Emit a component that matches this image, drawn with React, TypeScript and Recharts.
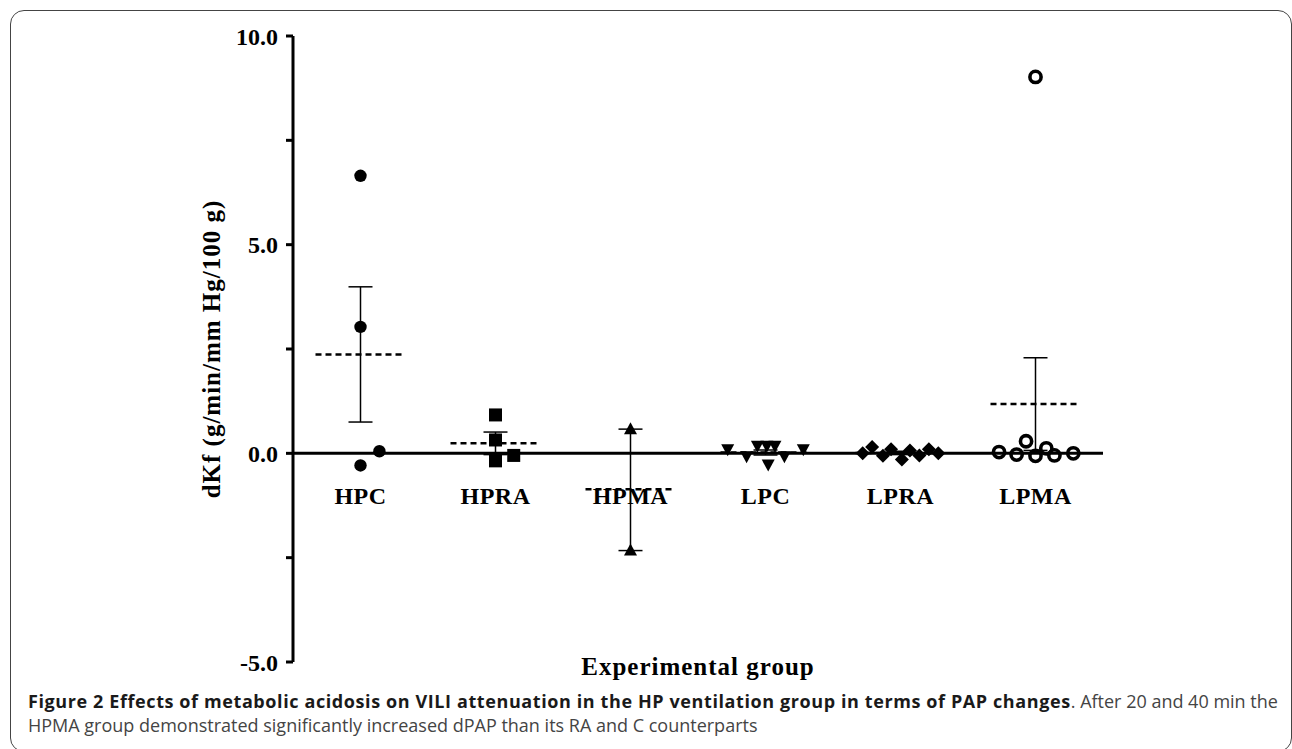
import React from "react";
import {
  ComposedChart,
  ErrorBar,
  ReferenceLine,
  Scatter,
  XAxis,
  YAxis,
} from "recharts";

const categories = ["HPC", "HPRA", "HPMA", "LPC", "LPRA", "LPMA"];
const yTicks = [-5, -2.5, 0, 2.5, 5, 7.5, 10];

// individual animals per group (value) and horizontal spread within the column
const hpcValues = [6.65, 3.03, -0.29, 0.05];
const hpcSpread = [0, 0, 0, 0.14];
const hpraValues = [0.92, 0.32, -0.18, -0.05];
const hpraSpread = [0, 0, 0, 0.135];
const hpmaValues = [0.58, -2.33];
const hpmaSpread = [0, 0];
const lpcValues = [0.1, -0.07, 0.18, 0.18, -0.27, 0.18, -0.07, 0.1];
const lpcSpread = [-0.28, -0.14, -0.06, 0.01, 0.02, 0.07, 0.14, 0.28];
const lpraValues = [0.0, 0.15, -0.06, 0.1, -0.15, 0.07, -0.05, 0.1, 0.0];
const lpraSpread = [-0.28, -0.21, -0.13, -0.07, 0.01, 0.07, 0.14, 0.21, 0.28];
const lpmaValues = [0.03, -0.03, 0.29, -0.06, 0.12, -0.05, 0.0, 9.02];
const lpmaSpread = [-0.27, -0.14, -0.07, 0, 0.08, 0.14, 0.28, 0];

// group mean and SEM bounds
const means = [2.37, 0.24, -0.86, 0.02, 0.01, 1.18];
const errLow = [1.62, 0.27, 1.47, 0.06, 0.04, 1.11];
const errHigh = [1.62, 0.27, 1.44, 0.06, 0.04, 1.11];

const toPoints = (vals: number[], spread: number[], i: number) =>
  vals.map((y, k) => ({ x: i + 0.5 + spread[k], y }));

const meanData = means.map((m, i) => ({
  x: i + 0.5,
  y: m,
  err: [errLow[i], errHigh[i]],
}));
const labelData = categories.map((name, i) => ({ x: i + 0.5, y: 0, name }));

const serif = "'Liberation Serif', 'Times New Roman', serif";

const dot = (p: any) => <circle cx={p.cx} cy={p.cy} r={6.2} fill="#000" />;
const square = (p: any) => (
  <rect x={p.cx - 6.5} y={p.cy - 6.5} width={13} height={13} fill="#000" />
);
const triUp = (p: any) => (
  <polygon
    points={`${p.cx},${p.cy - 7} ${p.cx - 6.5},${p.cy + 5} ${p.cx + 6.5},${p.cy + 5}`}
    fill="#000"
  />
);
const triDown = (p: any) => (
  <polygon
    points={`${p.cx - 6.5},${p.cy - 5} ${p.cx + 6.5},${p.cy - 5} ${p.cx},${p.cy + 7}`}
    fill="#000"
  />
);
const diamond = (p: any) => (
  <polygon
    points={`${p.cx},${p.cy - 7} ${p.cx + 7},${p.cy} ${p.cx},${p.cy + 7} ${p.cx - 7},${p.cy}`}
    fill="#000"
  />
);
const ring = (p: any) => (
  <circle cx={p.cx} cy={p.cy} r={5.6} fill="none" stroke="#000" strokeWidth={3.6} />
);
const meanLine = (p: any) => (
  <line
    x1={p.cx - 45}
    x2={p.cx + 45}
    y1={p.cy}
    y2={p.cy}
    stroke="#000"
    strokeWidth={2.5}
    strokeDasharray="6 4"
  />
);
const catLabel = (p: any) => (
  <text
    x={p.cx}
    y={p.cy + 51}
    textAnchor="middle"
    fontFamily={serif}
    fontWeight="bold"
    fontSize={24}
    letterSpacing={0.5}
    fill="#000"
  >
    {p.payload.name}
  </text>
);

export default function App() {
  return (
    <div
      style={{
        position: "absolute",
        left: 0,
        top: 0,
        width: 1292,
        height: 749,
        overflow: "hidden",
        background: "#fff",
      }}
    >
      <div
        style={{
          position: "absolute",
          left: 10,
          top: 10,
          width: 1282,
          height: 742,
          boxSizing: "border-box",
          border: "1.5px solid #444",
          borderRadius: 14,
        }}
      />
      <div style={{ position: "absolute", left: 0, top: 0 }}>
        <ComposedChart
          width={1292}
          height={690}
          margin={{ top: 36, right: 189, left: 193, bottom: 0 }}
        >
          <XAxis
            type="number"
            dataKey="x"
            domain={[0, 6]}
            allowDataOverflow
            axisLine={false}
            tickLine={false}
            tick={false}
            height={28}
            label={{
              value: "Experimental group",
              position: "insideTop",
              offset: -5,
              fontFamily: serif,
              fontWeight: "bold",
              fontSize: 25,
              letterSpacing: 1,
              style: { fill: "#000" },
            }}
          />
          <YAxis
            type="number"
            domain={[-5, 10]}
            ticks={yTicks}
            interval={0}
            width={100}
            stroke="#000"
            axisLine={{ stroke: "#000", strokeWidth: 3 }}
            tickLine={{ stroke: "#000", strokeWidth: 3 }}
            tickSize={7}
            tickMargin={8}
            tickFormatter={(v: number) => (v % 5 === 0 ? v.toFixed(1) : "")}
            tick={{
              fill: "#000",
              fontFamily: serif,
              fontWeight: "bold",
              fontSize: 24,
            }}
            label={{
              value: "dKf (g/min/mm Hg/100 g)",
              angle: -90,
              position: "insideLeft",
              offset: 18,
              fontFamily: serif,
              fontWeight: "bold",
              fontSize: 25,
              letterSpacing: 1,
              style: { textAnchor: "middle", fill: "#000" },
            }}
          />
          <ReferenceLine y={0} stroke="#000" strokeWidth={3} />
          <Scatter data={labelData} dataKey="y" shape={catLabel} isAnimationActive={false} />
          <Scatter data={meanData} dataKey="y" shape={meanLine} isAnimationActive={false}>
            <ErrorBar
              dataKey="err"
              direction="y"
              width={12}
              stroke="#000"
              strokeWidth={1.5}
              isAnimationActive={false}
            />
          </Scatter>
          <Scatter data={toPoints(hpcValues, hpcSpread, 0)} dataKey="y" shape={dot} isAnimationActive={false} />
          <Scatter data={toPoints(hpraValues, hpraSpread, 1)} dataKey="y" shape={square} isAnimationActive={false} />
          <Scatter data={toPoints(hpmaValues, hpmaSpread, 2)} dataKey="y" shape={triUp} isAnimationActive={false} />
          <Scatter data={toPoints(lpcValues, lpcSpread, 3)} dataKey="y" shape={triDown} isAnimationActive={false} />
          <Scatter data={toPoints(lpraValues, lpraSpread, 4)} dataKey="y" shape={diamond} isAnimationActive={false} />
          <Scatter data={toPoints(lpmaValues, lpmaSpread, 5)} dataKey="y" shape={ring} isAnimationActive={false} />
        </ComposedChart>
      </div>
      <div
        style={{
          position: "absolute",
          left: 28,
          top: 689,
          fontFamily: "'Open Sans', sans-serif",
          fontSize: 18,
          lineHeight: "24px",
          whiteSpace: "nowrap",
          color: "#444",
        }}
      >
        <div>
          <span style={{ fontWeight: "bold", color: "#1a1a1a", letterSpacing: 0.6 }}>
            Figure 2 Effects of metabolic acidosis on VILI attenuation in the HP
            ventilation group in terms of PAP changes
          </span>
          . After 20 and 40 min the
        </div>
        <div>HPMA group demonstrated significantly increased dPAP than its RA and C counterparts</div>
      </div>
    </div>
  );
}
